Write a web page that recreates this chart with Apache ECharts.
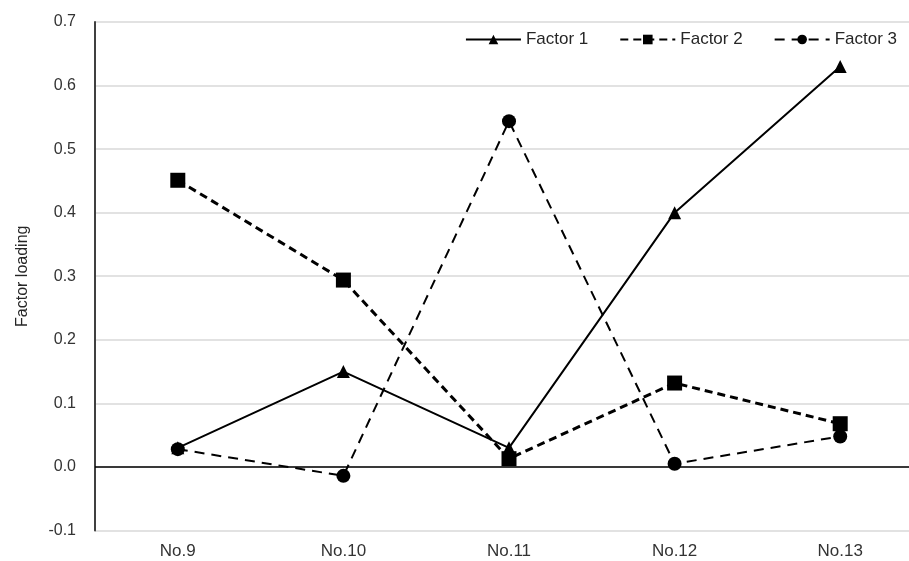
<!DOCTYPE html>
<html>
<head>
<meta charset="utf-8">
<script src="https://cdn.jsdelivr.net/npm/echarts@6/dist/echarts.min.js"></script>
<style>html,body{margin:0;padding:0;background:#fff}#c{width:909px;height:561px}</style>
</head>
<body>
<div id="c"></div>
<script>
const categories = ['No.9', 'No.10', 'No.11', 'No.12', 'No.13'];
const factor1 = [0.03, 0.15, 0.03, 0.40, 0.63];
const factor2 = [0.451, 0.294, 0.013, 0.132, 0.068];
const factor3 = [0.028, -0.014, 0.544, 0.005, 0.048];
const yTicks = { min: -0.1, max: 0.7, interval: 0.1 };

const chart = echarts.init(document.getElementById('c'));
const font = 'Liberation Sans, Arial, sans-serif';
chart.setOption({
  backgroundColor: '#fff',
  animation: false,
  grid: { left: 95, right: -14, top: 22, bottom: 30.5, containLabel: false, outerBoundsMode: 'none' },
  legend: {
    right: 7, top: 26, itemWidth: 55, itemHeight: 12, itemGap: 31,
    textStyle: { fontFamily: font, fontSize: 17, color: '#262626' },
    data: ['Factor 1', 'Factor 2', 'Factor 3']
  },
  xAxis: {
    type: 'category', data: categories, boundaryGap: true,
    axisLine: { show: false, onZero: false }, axisTick: { show: false },
    axisLabel: { fontFamily: font, fontSize: 17, color: '#333', margin: 12 }
  },
  yAxis: {
    type: 'value', min: yTicks.min, max: yTicks.max, interval: yTicks.interval,
    name: 'Factor loading', nameLocation: 'middle', nameGap: 64, nameRotate: 90,
    nameTextStyle: { fontFamily: font, fontSize: 16, color: '#262626' },
    axisLine: { show: true, lineStyle: { color: '#404040', width: 2 } },
    axisTick: { show: false },
    axisLabel: { fontFamily: font, fontSize: 16, color: '#333', margin: 19,
      formatter: v => v.toFixed(1) },
    splitLine: { show: true, lineStyle: { color: '#d9d9d9', width: 1.5 } }
  },
  series: [
    { name: 'Factor 1', type: 'line', data: factor1, symbol: 'triangle', symbolSize: 13,
      itemStyle: { color: '#000' }, lineStyle: { color: '#000', width: 2 },
      markLine: { silent: true, symbol: 'none', label: { show: false },
        lineStyle: { color: '#000', width: 1.5, type: 'solid' }, data: [{ yAxis: 0 }] } },
    { name: 'Factor 2', type: 'line', data: factor2, symbol: 'rect', symbolSize: 15,
      itemStyle: { color: '#000' }, lineStyle: { color: '#000', width: 3, type: [8, 5] } },
    { name: 'Factor 3', type: 'line', data: factor3, symbol: 'circle', symbolSize: 14,
      itemStyle: { color: '#000' }, lineStyle: { color: '#000', width: 2, type: [10, 7] } }
  ]
});
</script>
</body>
</html>
